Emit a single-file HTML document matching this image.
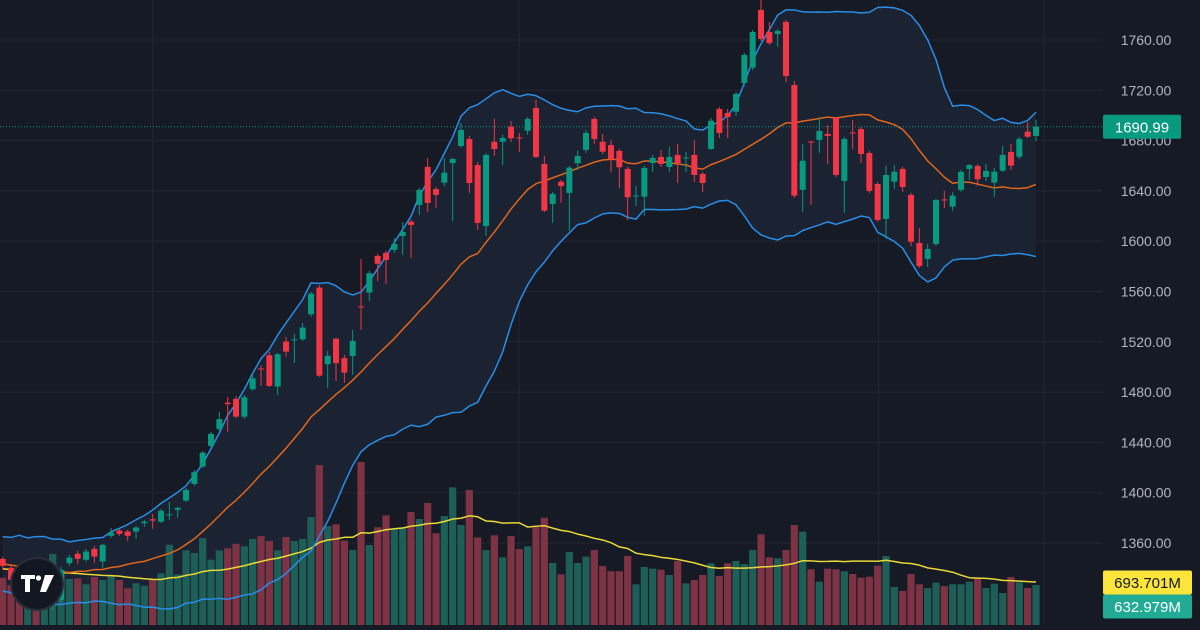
<!DOCTYPE html>
<html><head><meta charset="utf-8"><style>
html,body{margin:0;padding:0;background:#161a25;}
svg{display:block;font-family:"Liberation Sans",sans-serif;}
</style></head><body>
<svg id="chart" width="1200" height="630" viewBox="0 0 1200 630">
<defs><clipPath id="pane"><rect x="0" y="0" width="1103" height="625"/></clipPath></defs>
<rect x="0" y="0" width="1200" height="630" fill="#161a25"/>
<g id="grid"></g>
<g id="bandfill" clip-path="url(#pane)"></g>
<g id="volumes"></g>
<g id="lines" clip-path="url(#pane)"></g>
<g id="candles" clip-path="url(#pane)"></g>
<g id="axis"></g>
<g>
<circle cx="37" cy="584" r="26" fill="#131722" stroke="#2a2e39" stroke-width="2"/>
<path d="M21 575 h14 v4 h-5 v13 h-5 v-13 h-4z" fill="#fff"/>
<circle cx="38.5" cy="578" r="2.6" fill="#fff"/>
<path d="M45 575 h9 l-8 17 h-6z" fill="#fff"/>
</g>
</svg>
<script>
const priceTicks=[1360,1400,1440,1480,1520,1560,1600,1640,1680,1720,1760];
const warmCloses=[1350,1335,1358,1342,1328,1355,1338,1360,1330,1348,1326,1356,1337,1352,1329,1346,1358,1333,1345];
const warmVolumes=[900,950,880,920,860,940,900,870,910,890,930,880,900,860,920,890,870,910,880];
const volMaLast=693.701;
const opens=[1347.4,1340.2,1328.3,1314.8,1322.8,1314.8,1314.8,1314.8,1344,1351.4,1346.6,1355.3,1345.3,1365.7,1369.9,1369.1,1369.1,1375.8,1378.9,1377,1382,1386.4,1393.7,1407,1420.8,1437.2,1450.7,1471.6,1474.6,1460.5,1482.3,1498.8,1509.3,1484.4,1520.2,1521.1,1522,1541.9,1563.1,1502.2,1522.5,1507,1508.8,1548.1,1559.1,1588.3,1590.7,1593.1,1604.2,1615.5,1628.8,1659.1,1641.5,1646.6,1662.2,1675.7,1681.3,1660.6,1612.1,1679.1,1679.1,1691.1,1682.5,1687.9,1705.9,1661.4,1629.6,1647.3,1638.4,1662,1672.6,1697.2,1679.1,1676.5,1671.8,1657.5,1635.6,1635.4,1662.2,1667,1659.1,1668.6,1665.8,1668.6,1653.5,1673.3,1705.1,1702,1703,1725.8,1738,1783.9,1766.4,1764.8,1774.3,1724.2,1640.8,1679.3,1680.5,1685.3,1698,1647.9,1686.5,1689.2,1670.2,1645.5,1617.7,1647.3,1657.5,1636.8,1598.6,1585.9,1597.8,1633.2,1627.5,1640.8,1657.5,1659.8,1651.1,1646.6,1656.1,1671,1667.2,1687.1,1683.7];
const highs=[1349,1342.6,1330.7,1329.1,1325.1,1329.1,1330.7,1341,1350.6,1353.8,1355.3,1357.7,1359.3,1372,1371.2,1370.5,1373.6,1378.4,1383.2,1387.1,1392.7,1388.7,1403.8,1418.2,1433.3,1448.4,1464.3,1476.2,1477,1477.8,1493.7,1501.6,1512,1511.2,1523.9,1526.3,1535,1559.7,1565.2,1512.8,1523.1,1509.6,1529.4,1585.9,1576.4,1589.9,1592.3,1602.6,1615.3,1616.9,1642.3,1666.2,1643.1,1666.2,1666.2,1694,1683.7,1663,1670.2,1697.2,1684.5,1695.6,1686.1,1698.8,1712.3,1667.8,1639.2,1648.7,1659.8,1671.8,1688.5,1698.8,1685.3,1680.5,1673.3,1659.1,1644,1659.8,1668.6,1672.6,1675,1677.3,1671,1680.5,1655.1,1698,1706.7,1705.1,1718.7,1749.7,1768,1791.8,1774.3,1768.7,1775.9,1727.4,1677.3,1679.7,1698.8,1692.4,1698.8,1682.9,1696.4,1690.8,1671.8,1647.1,1659.8,1660.6,1659.1,1638.4,1610.5,1597.8,1633.6,1640,1639.2,1656.7,1661.4,1661.4,1661.4,1658.2,1675.7,1677.3,1682.9,1694.8,1696.4];
const lows=[1338.6,1329.1,1313.2,1311.6,1306.8,1312.4,1306.8,1312.4,1341.8,1343.4,1345,1344.2,1340.2,1364.1,1365.7,1361.7,1363.3,1372.8,1371.2,1376,1378.4,1380,1392.7,1405.4,1419.7,1435.6,1449.2,1448.4,1459.5,1458.7,1481,1484.9,1484.1,1477.8,1508,1503.2,1520.7,1539.8,1492.1,1483.3,1488.9,1487.3,1493.7,1529.4,1552.5,1568.4,1566,1590.7,1589.1,1586.7,1620.9,1623.3,1626.4,1643.9,1616.1,1674.1,1638.4,1608.9,1604.2,1667.8,1660.6,1678.9,1671,1684.5,1666.2,1623.3,1614.5,1630.4,1608.2,1656.7,1670.2,1677.3,1669.4,1655.1,1642.3,1616.9,1628,1620.1,1655.1,1659.1,1655.1,1646.3,1655.1,1647.1,1639.2,1672.6,1682.1,1682.1,1699.6,1723.4,1736.1,1759.2,1756,1754.4,1726.6,1634.4,1623.3,1628.8,1670.2,1661.4,1651.1,1622.5,1673.3,1662.2,1638.4,1615.3,1601.8,1641.5,1639.2,1596.2,1578.7,1579.5,1596.2,1626.4,1624.1,1639.2,1648.7,1643.9,1647.9,1635.2,1655.1,1656.7,1665.4,1682.1,1679.7];
const closes=[1341.8,1330.7,1316.4,1326.7,1314.8,1326.7,1326.7,1338.6,1348.4,1347.4,1353.2,1349.2,1358.5,1368.3,1367.3,1365.7,1372.3,1377,1377.8,1385.6,1382.8,1388,1402.2,1416.3,1431.9,1446.8,1458.5,1470.4,1460.5,1475.9,1491,1498,1484.9,1510.1,1512.2,1521.9,1531.3,1558.3,1493.1,1508.8,1503,1495.5,1520.7,1547.3,1574.5,1582,1585.1,1597.8,1607.4,1612.9,1640.8,1630.4,1636.8,1654.5,1665.4,1688.5,1646.3,1614.5,1668.6,1673.3,1682.1,1681.9,1681.9,1697.2,1667,1624.3,1637.6,1643.9,1658.5,1667.8,1686.1,1681.3,1671.2,1665.2,1658.8,1634.9,1636.4,1658.2,1666.2,1661.4,1667,1662.2,1666.6,1652.7,1646.3,1695.8,1686.1,1698.8,1717.1,1748.1,1766.4,1760.8,1757.6,1767.2,1731.4,1636.2,1664,1678.5,1687.7,1683.7,1652.7,1681.3,1685.7,1669.4,1640,1616.9,1652.7,1655.3,1643.1,1599.6,1580.3,1593.8,1632.8,1632.4,1636.2,1655.1,1660.6,1649.3,1655.9,1655.3,1668.6,1660.1,1681.3,1683.1,1690.99];
const volumes=[748,633,554,712,601,664,1123,870,728,739,644,759,712,791,712,581,660,622,712,818,1270,802,1182,1139,1376,1033,1182,1213,1286,1245,1361,1408,1329,1182,1392,1329,1361,1709,2531,1566,1593,1334,1187,2579,1266,1546,1735,1519,1530,1788,1677,1930,1451,1724,2178,1582,2136,1387,1187,1419,1071,1408,1202,1245,1555,1697,981,802,1155,981,1081,1187,933,850,850,1092,644,918,891,875,791,1013,660,712,791,976,775,976,1013,965,1187,1435,1071,1055,1187,1582,1476,881,685,891,881,850,807,748,764,938,1092,601,538,807,644,585,669,617,644,644,685,748,585,653,506,759,675,585,632.979];

const NS='http://www.w3.org/2000/svg';
const N=closes.length;
const xS=i=>2.7+i*8.333;
const yP=p=>40+(1760-p)*1.2575;
const yV=v=>625-v*0.0632;
function mk(tag,attrs,parent){const e=document.createElementNS(NS,tag);for(const k in attrs)e.setAttribute(k,attrs[k]);parent.appendChild(e);return e;}

const grid=document.getElementById('grid');
priceTicks.forEach(p=>{
  const l=mk('line',{x1:0,x2:1103,y1:yP(p),y2:yP(p),stroke:'#232734','stroke-width':1},grid);
  
  
});
[152.7,519,878.7,1044].forEach(x=>{
  const l=mk('line',{x1:x,x2:x,y1:0,y2:625,stroke:'#232734','stroke-width':1},grid);
  
  
});

const allC=warmCloses.concat(closes), W=warmCloses.length;
const basis=[],upper=[],lower=[];
for(let i=0;i<N;i++){
  const s=allC.slice(i+W-19,i+W+1);
  const m=s.reduce((a,b)=>a+b,0)/s.length;
  const sd=Math.sqrt(s.reduce((a,b)=>a+(b-m)*(b-m),0)/s.length);
  basis.push(m);upper.push(m+2*sd);lower.push(m-2*sd);
}
const allV=warmVolumes.concat(volumes);
const vma=[];
for(let i=0;i<N;i++){const s=allV.slice(i+W-19,i+W+1);vma.push(s.reduce((a,b)=>a+b,0)/s.length);}

const fillG=document.getElementById('bandfill');
let d='M'+upper.map((v,i)=>xS(i)+','+yP(v)).join(' L')+' L'+lower.map((v,i)=>xS(i)+','+yP(v)).reverse().join(' L')+'Z';
const fp=mk('path',{d:d,fill:'#1b2232'},fillG);



const vg=document.getElementById('volumes');
volumes.forEach((v,i)=>{
  const up=closes[i]>=opens[i];
  const r=mk('rect',{x:xS(i)-3.6,y:yV(v),width:7.2,height:625-yV(v),fill:up?'#1d5f57':'#7d3343'},vg);
  
  
});

const lg=document.getElementById('lines');
function line(arr,fn,color,name,w){
  const p=mk('path',{d:'M'+arr.map((v,i)=>xS(i)+','+fn(v)).join(' L'),fill:'none',stroke:color,'stroke-width':w,'stroke-linejoin':'round'},lg);
  
  
}
line(vma,yV,'#e8d838','volume-ma-line',1.5);
line(upper,yP,'#2a8de6','bollinger-upper',1.5);
line(lower,yP,'#2a8de6','bollinger-lower',1.5);
line(basis,yP,'#e0661c','bollinger-basis',1.5);

const dl=mk('line',{x1:0,x2:1103,y1:yP(closes[N-1]),y2:yP(closes[N-1]),stroke:'#089981','stroke-width':1,'stroke-dasharray':'1 2'},lg);



const cg=document.getElementById('candles');
for(let i=0;i<N;i++){
  const up=closes[i]>=opens[i], col=up?'#089981':'#f23645';
  const g=mk('g',{},cg);
  
  
  mk('line',{x1:xS(i),x2:xS(i),y1:yP(highs[i]),y2:yP(lows[i]),stroke:col,'stroke-width':1},g);
  const t=yP(Math.max(opens[i],closes[i])), b=yP(Math.min(opens[i],closes[i]));
  mk('rect',{x:xS(i)-3,y:t,width:6,height:Math.max(1,b-t),fill:col},g);
}

const ax=document.getElementById('axis');
priceTicks.forEach(p=>{
  const t=mk('text',{x:1146,y:yP(p)+5,'text-anchor':'middle','font-size':14,fill:'#b2b5be'},ax);
  t.textContent=p.toFixed(2);
  
  
});
function badge(y,w,bg,fg,txt,name){
  const g=mk('g',{},ax);
  
  
  mk('rect',{x:1103,y:y-12,width:w,height:24,rx:2,fill:bg},g);
  const t=mk('text',{x:1103+w/2,y:y+5.5,'text-anchor':'middle','font-size':15,fill:fg},g);
  t.textContent=txt;
}
badge(yP(closes[N-1]),78,'#089981','#ffffff',closes[N-1].toFixed(2),'last-price-badge');
badge(582.5,89,'#fbe53b','#131722',volMaLast.toFixed(3)+'M','volume-ma-badge');
badge(606.5,89,'#22ab94','#ffffff',volumes[N-1].toFixed(3)+'M','volume-badge');
</script>
</body></html>
